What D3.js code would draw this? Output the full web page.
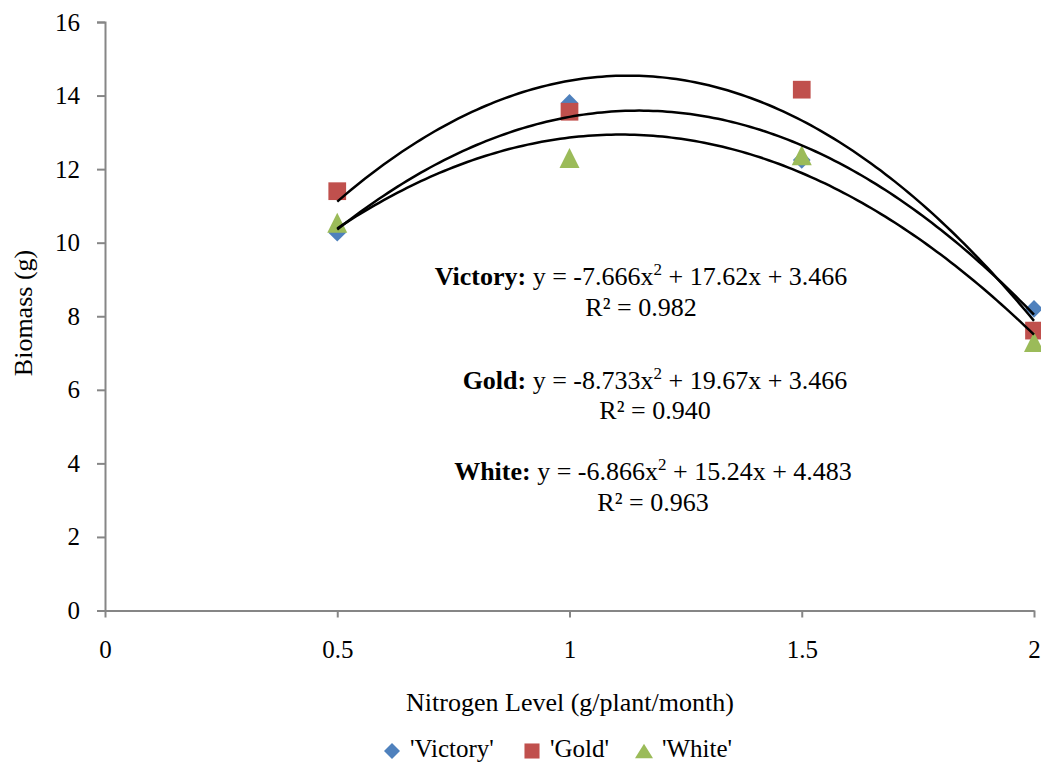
<!DOCTYPE html>
<html>
<head>
<meta charset="utf-8">
<script src="https://cdn.jsdelivr.net/npm/d3@7"></script>
<style>
  body { margin: 0; background: #fff; }
  text { font-family: "Liberation Serif", "Times New Roman", serif; fill: #000; }
</style>
</head>
<body>
<div id="chart"></div>
<script>
// nitrogen levels (g/plant/month)
const levels = [0.5, 1, 1.5, 2];

// biomass (g) per cultivar
const victory = [10.27, 13.8, 12.25, 8.2];
const gold = [11.4, 13.56, 14.16, 7.61];
const white = [10.54, 12.3, 12.38, 7.3];

// quadratic trend coefficients [a, b, c] for y = a x^2 + b x + c
const victoryFit = [-7.666, 17.62, 3.466];
const goldFit = [-8.733, 19.67, 3.466];
const whiteFit = [-6.866, 15.24, 4.483];

const names = ["Victory", "Gold", "White"];
const rSquared = ["0.982", "0.940", "0.963"];

const xTicks = [0, 0.5, 1, 1.5, 2];
const yTicks = [0, 2, 4, 6, 8, 10, 12, 14, 16];

const width = 1041, height = 763;
const margin = { top: 22, right: 6, bottom: 153, left: 105 };

const svg = d3.select("#chart").append("svg")
  .attr("width", width)
  .attr("height", height);

const x = d3.scaleLinear().domain([0, 2]).range([margin.left, width - margin.right - 1]);
const y = d3.scaleLinear().domain([0, 16]).range([height - margin.bottom + 0.5, margin.top]);

const axisColor = "#868686";

// y axis
const yAxis = svg.append("g")
  .attr("transform", `translate(${margin.left},0)`)
  .call(d3.axisLeft(y).tickValues(yTicks).tickSize(8).tickPadding(17).tickFormat(d3.format("d")));
yAxis.select(".domain").attr("stroke", axisColor).attr("stroke-width", 2);
yAxis.selectAll(".tick line").attr("stroke", axisColor).attr("stroke-width", 2);
yAxis.selectAll(".tick text").style("font-size", "25px").attr("fill", "#000");

// x axis
const xAxis = svg.append("g")
  .attr("transform", `translate(0,${y(0)})`)
  .call(d3.axisBottom(x).tickValues(xTicks).tickSize(7).tickSizeOuter(0).tickPadding(23).tickFormat(d3.format("")));
xAxis.select(".domain").attr("stroke", axisColor).attr("stroke-width", 2);
xAxis.selectAll(".tick line").attr("stroke", axisColor).attr("stroke-width", 2);
xAxis.selectAll(".tick text").style("font-size", "25px").attr("fill", "#000");

// axis titles
svg.append("text")
  .attr("x", 570)
  .attr("y", 711)
  .attr("text-anchor", "middle")
  .style("font-size", "26px")
  .text("Nitrogen Level (g/plant/month)");

svg.append("text")
  .attr("transform", `translate(32,313) rotate(-90)`)
  .attr("text-anchor", "middle")
  .style("font-size", "26px")
  .text("Biomass (g)");

// triangle with equal width and height, as the spreadsheet draws it
const triangle = (ratio) => ({
  draw(context, size) {
    const w = Math.sqrt(size);
    const h = w * ratio;
    context.moveTo(0, -h / 2);
    context.lineTo(w / 2, h / 2);
    context.lineTo(-w / 2, h / 2);
    context.closePath();
  }
});

const series = [
  { name: "Victory", values: victory, fit: victoryFit, color: "#4F81BD", shape: d3.symbolDiamond2, size: 200 },
  { name: "Gold", values: gold, fit: goldFit, color: "#C0504D", shape: d3.symbolSquare2, size: 400 },
  { name: "White", values: white, fit: whiteFit, color: "#9BBB59", shape: triangle(1), size: 400 }
];

// markers
series.forEach((s) => {
  svg.append("g")
    .selectAll("path")
    .data(levels.map((lv, i) => [lv, s.values[i]]))
    .join("path")
    .attr("transform", (d) => `translate(${x(d[0])},${y(d[1])})`)
    .attr("d", d3.symbol().type(s.shape).size(s.size))
    .attr("fill", s.color);
});

// trend lines
const line = d3.line().x((d) => x(d[0])).y((d) => y(d[1]));
series.forEach((s) => {
  const [a, b, c] = s.fit;
  const pts = d3.range(0.5, 2.0001, 0.01).map((t) => [t, a * t * t + b * t + c]);
  svg.append("path")
    .datum(pts)
    .attr("d", line)
    .attr("fill", "none")
    .attr("stroke", "#000")
    .attr("stroke-width", 2.5);
});

// equation labels
const eqPos = [
  { cx: 641, y: 285, ry: 316 },
  { cx: 655, y: 389, ry: 419 },
  { cx: 653, y: 480, ry: 511 }
];
const fmtCoef = (v) => (v < 0 ? "-" : "") + Math.abs(v).toFixed(Math.abs(v) >= 10 ? 2 : 3);

series.forEach((s, i) => {
  const [a, b, c] = s.fit;
  const p = eqPos[i];
  const t = svg.append("text")
    .attr("x", p.cx)
    .attr("y", p.y)
    .attr("text-anchor", "middle")
    .style("font-size", "26px");
  t.append("tspan").style("font-weight", "bold").text(names[i] + ":");
  t.append("tspan").text(` y = ${fmtCoef(a)}x`);
  t.append("tspan").attr("dy", -10).style("font-size", "17px").text("2");
  t.append("tspan").attr("dy", 10).text(` + ${b.toFixed(2)}x + ${c.toFixed(3)}`);

  svg.append("text")
    .attr("x", p.cx)
    .attr("y", p.ry)
    .attr("text-anchor", "middle")
    .style("font-size", "26px")
    .text(`R² = ${rSquared[i]}`);
});

// legend
const legendItems = [
  { label: "'Victory'", x: 392, shape: d3.symbolDiamond2, size: 162, color: series[0].color },
  { label: "'Gold'", x: 532, shape: d3.symbolSquare2, size: 289, color: series[1].color },
  { label: "'White'", x: 644, shape: triangle(0.8), size: 324, color: series[2].color }
];
const legend = svg.append("g").attr("transform", "translate(0,751)");
legendItems.forEach((it) => {
  legend.append("path")
    .attr("transform", `translate(${it.x},0)`)
    .attr("d", d3.symbol().type(it.shape).size(it.size))
    .attr("fill", it.color);
  legend.append("text")
    .attr("x", it.x + 18)
    .attr("y", 6)
    .style("font-size", "25px")
    .text(it.label);
});
</script>
</body>
</html>
